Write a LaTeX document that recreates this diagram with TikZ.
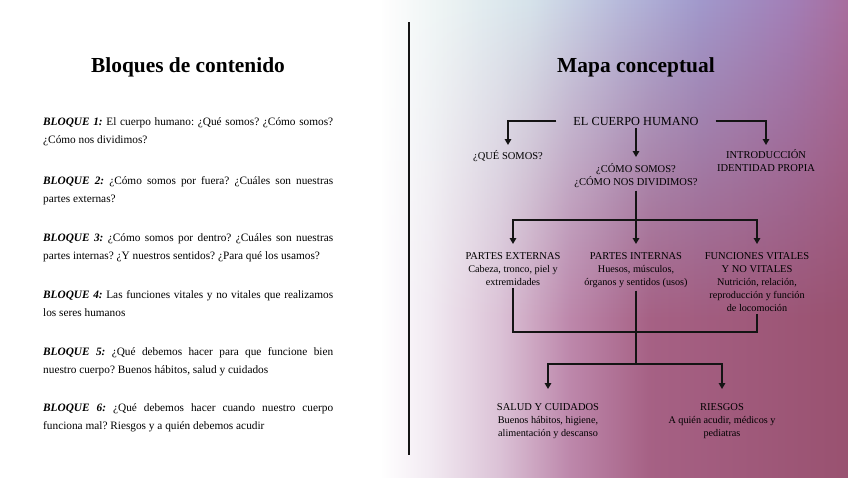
\documentclass[tikz,border=0pt]{standalone}
\usepackage{fontspec}
\setmainfont{Liberation Serif}
\usetikzlibrary{arrows.meta,positioning,fadings}

\definecolor{inkblack}{RGB}{20,20,20}

% background washes (interesting part 25bp--75bp)
\pgfdeclarehorizontalshading{bgplum}{100bp}{rgb(0bp)=(1,1,1); rgb(25bp)=(1,1,1);
  rgb(30.3bp)=(0.95,0.92,0.95); rgb(37.8bp)=(0.86,0.76,0.84); rgb(45.3bp)=(0.74,0.53,0.67);
  rgb(53.8bp)=(0.65,0.38,0.52); rgb(75bp)=(0.60,0.32,0.44); rgb(100bp)=(0.60,0.32,0.44)}
\pgfdeclarehorizontalshading{bgsky}{100bp}{rgb(0bp)=(1,1,1); rgb(25bp)=(1,1,1);
  rgb(31.4bp)=(0.93,0.96,0.96); rgb(41bp)=(0.84,0.89,0.92); rgb(50.6bp)=(0.72,0.73,0.86);
  rgb(59.2bp)=(0.63,0.60,0.80); rgb(68.8bp)=(0.64,0.50,0.72); rgb(75bp)=(0.66,0.43,0.62);
  rgb(100bp)=(0.66,0.43,0.62)}

\newcommand{\mapsub}[1]{{\fontsize{10.2}{13}\selectfont #1}}
\newcommand{\bloque}[1]{\textbf{\textit{BLOQUE #1:}}}

\tikzset{
    bigtitle/.style={font=\fontsize{21.4}{24}\selectfont\bfseries},
    blocktext/.style={anchor=north west,text width=290pt,align=justify,inner sep=0pt,font=\fontsize{11.3}{18}\selectfont\frenchspacing},
    mapnode/.style={align=center,inner sep=2.5pt,font=\fontsize{10.5}{13}\selectfont},
    maproot/.style={mapnode,font=\fontsize{12.3}{14}\selectfont,inner xsep=17pt},
    mapline/.style={line width=2.3pt,inkblack},
    maparrow/.style={mapline,-{Triangle[length=6pt,width=6.5pt]}}
}

\begin{document}
\begin{tikzpicture}[x=1pt,y=-1pt]
    \useasboundingbox (0,0) rectangle (848,477);
    \shade[shading=bgplum] (380,0) rectangle (848,477);
    \shade[shading=bgsky,path fading=south] (380,0) rectangle (848,320);
    \draw[line width=1.1pt,inkblack] (409,22) -- (409,455);

    % left column
    \node[bigtitle] (lefttitle) at (188,67) {Bloques de contenido};
    \node[blocktext] (b1) at (43,117) {\bloque{1} El cuerpo humano: ¿Qué somos? ¿Cómo somos?\linebreak ¿Cómo nos dividimos?};
    \node[blocktext] (b2) at (43,176) {\bloque{2} ¿Cómo somos por fuera? ¿Cuáles son nuestras\linebreak partes externas?};
    \node[blocktext] (b3) at (43,233) {\bloque{3} ¿Cómo somos por dentro? ¿Cuáles son nuestras\linebreak partes internas? ¿Y nuestros sentidos? ¿Para qué los usamos?};
    \node[blocktext] (b4) at (43,290) {\bloque{4} Las funciones vitales y no vitales que realizamos\linebreak los seres humanos};
    \node[blocktext] (b5) at (43,347) {\bloque{5} ¿Qué debemos hacer para que funcione bien\linebreak nuestro cuerpo? Buenos hábitos, salud y cuidados};
    \node[blocktext] (b6) at (43,403) {\bloque{6} ¿Qué debemos hacer cuando nuestro cuerpo\linebreak funciona mal? Riesgos y a quién debemos acudir};

    % right column
    \node[bigtitle] (righttitle) at (636,67) {Mapa conceptual};
    \node[maproot] (root) at (636,121) {EL CUERPO HUMANO};
    \node[mapnode,anchor=north] (que) at (508,148) {¿QUÉ SOMOS?};
    \node[mapnode,anchor=north] (como) at (636,161) {¿CÓMO SOMOS?\\¿CÓMO NOS DIVIDIMOS?};
    \node[mapnode,anchor=north] (intro) at (766,147) {INTRODUCCIÓN\\IDENTIDAD PROPIA};
    \node[mapnode,anchor=north] (ext) at (513,250) {PARTES EXTERNAS\\\mapsub{Cabeza, tronco, piel y}\\\mapsub{extremidades}};
    \node[mapnode,anchor=north] (int) at (636,250) {PARTES INTERNAS\\\mapsub{Huesos, músculos,}\\\mapsub{órganos y sentidos (usos)}};
    \node[mapnode,anchor=north] (func) at (757,250) {FUNCIONES VITALES\\Y NO VITALES\\\mapsub{Nutrición, relación,}\\\mapsub{reproducción y función}\\\mapsub{de locomoción}};
    \node[mapnode,anchor=north] (salud) at (548,401) {SALUD Y CUIDADOS\\\mapsub{Buenos hábitos, higiene,}\\\mapsub{alimentación y descanso}};
    \node[mapnode,anchor=north] (riesgos) at (722,401) {RIESGOS\\\mapsub{A quién acudir, médicos y}\\\mapsub{pediatras}};
    \coordinate (split) at (636,220);
    \coordinate (merge) at (636,332);
    \coordinate (fork) at (636,364);

    \draw[maparrow,shorten >=3pt] (root.west) -| (que.north);
    \draw[maparrow,shorten >=2pt] (root.east) -| (intro.north);
    \draw[maparrow,shorten >=4pt] (root.south) -- (como.north);
    \draw[mapline] (como.south) -- (split);
    \draw[maparrow,shorten >=6pt] (split) -| (ext.north);
    \draw[maparrow,shorten >=6pt] (split) -- (int.north);
    \draw[maparrow,shorten >=6pt] (split) -| (func.north);
    \draw[mapline] (ext.south) |- (merge) -| (func.south);
    \draw[mapline] (int.south) -- (fork);
    \draw[maparrow,shorten >=12pt] (fork) -| (salud.north);
    \draw[maparrow,shorten >=12pt] (fork) -| (riesgos.north);
\end{tikzpicture}
\end{document}
